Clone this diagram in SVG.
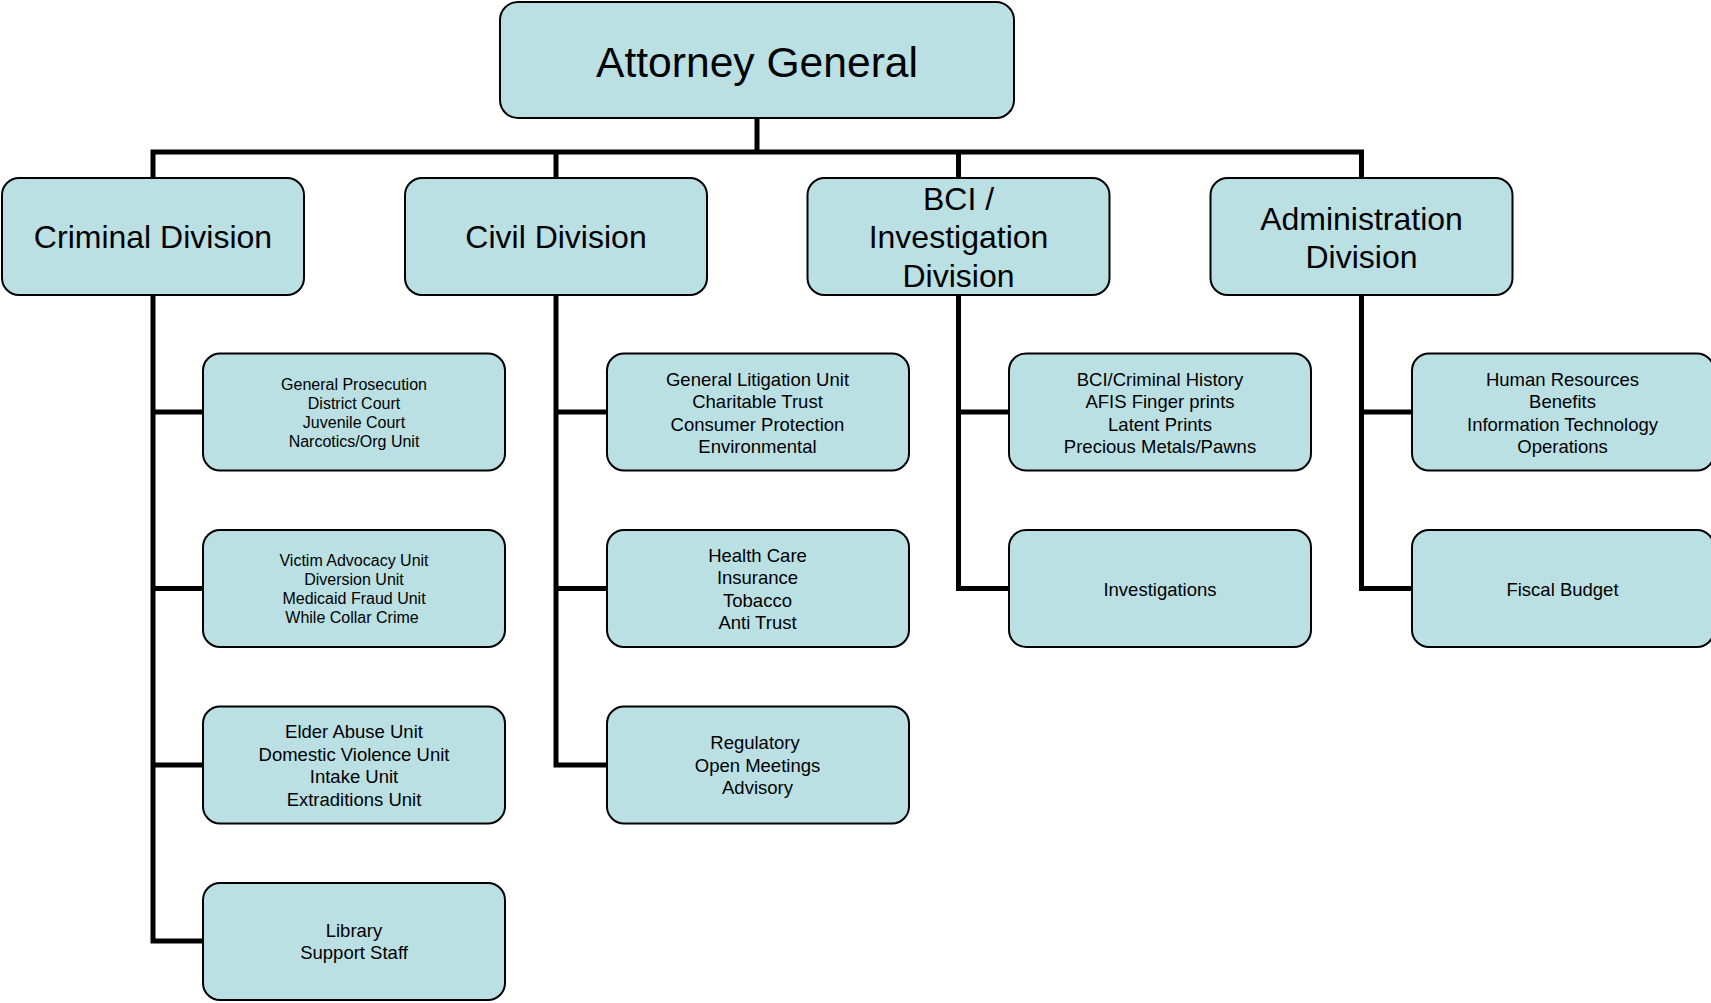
<svg xmlns="http://www.w3.org/2000/svg" width="1711" height="1003" viewBox="0 0 1711 1003">
<style>
.box{fill:#BBE0E3;stroke:#000;stroke-width:2}
.conn{fill:none;stroke:#000;stroke-width:5;stroke-linejoin:miter;stroke-linecap:butt}
text{font-family:"Liberation Sans",Arial,sans-serif;fill:#000;text-anchor:middle}
.t0{font-size:42.6px}
.t1{font-size:32px}
.t2{font-size:18.5px}
.t3{font-size:16px}
</style>
<rect width="1711" height="1003" fill="#fff"/>
<g id="connectors">
<path class="conn" d="M757,118 V152 M153,180 V152 H1361.5 V180 M556,152 V180 M958.5,152 V180"/>
<path class="conn" d="M153,295 V941 H203 M153,412 H203 M153,588.5 H203 M153,765 H203"/>
<path class="conn" d="M556,295 V765 H607 M556,412 H607 M556,588.5 H607"/>
<path class="conn" d="M958.5,295 V588.5 H1009 M958.5,412 H1009"/>
<path class="conn" d="M1361.5,295 V588.5 H1412 M1361.5,412 H1412"/>
</g>
<g id="attorney-general">
<rect class="box" x="500" y="2" width="514" height="116" rx="18"/>
<text class="t0" x="757" y="77">Attorney General</text>
</g>
<g id="criminal-division">
<rect class="box" x="2" y="178" width="302" height="117" rx="17"/>
<text class="t1" x="153" y="248">Criminal Division</text>
</g>
<g id="civil-division">
<rect class="box" x="405" y="178" width="302" height="117" rx="17"/>
<text class="t1" x="556" y="248">Civil Division</text>
</g>
<g id="bci-division">
<rect class="box" x="807.5" y="178" width="302" height="117" rx="17"/>
<text class="t1" x="958.5" y="210">BCI /</text>
<text class="t1" x="958.5" y="248">Investigation</text>
<text class="t1" x="958.5" y="286.5">Division</text>
</g>
<g id="admin-division">
<rect class="box" x="1210.5" y="178" width="302" height="117" rx="17"/>
<text class="t1" x="1361.5" y="229.5">Administration</text>
<text class="t1" x="1361.5" y="268">Division</text>
</g>
<g id="crim-1">
<rect class="box" x="203" y="353.5" width="302" height="117" rx="17"/>
<text class="t3" x="354" y="390">General Prosecution</text>
<text class="t3" x="354" y="409">District Court</text>
<text class="t3" x="354" y="428">Juvenile Court</text>
<text class="t3" x="354" y="447">Narcotics/Org Unit</text>
</g>
<g id="crim-2">
<rect class="box" x="203" y="530" width="302" height="117" rx="17"/>
<text class="t3" x="354" y="566">Victim Advocacy Unit</text>
<text class="t3" x="354" y="585">Diversion Unit</text>
<text class="t3" x="354" y="604">Medicaid Fraud Unit</text>
<text class="t3" x="352" y="623">While Collar Crime</text>
</g>
<g id="crim-3">
<rect class="box" x="203" y="706.5" width="302" height="117" rx="17"/>
<text class="t2" x="354" y="738">Elder Abuse Unit</text>
<text class="t2" x="354" y="760.5">Domestic Violence Unit</text>
<text class="t2" x="354" y="783">Intake Unit</text>
<text class="t2" x="354" y="805.5">Extraditions Unit</text>
</g>
<g id="crim-4">
<rect class="box" x="203" y="883" width="302" height="117" rx="17"/>
<text class="t2" x="354" y="936.5">Library</text>
<text class="t2" x="354" y="959">Support Staff</text>
</g>
<g id="civil-1">
<rect class="box" x="607" y="353.5" width="302" height="117" rx="17"/>
<text class="t2" x="757.5" y="385.5">General Litigation Unit</text>
<text class="t2" x="757.5" y="408">Charitable Trust</text>
<text class="t2" x="757.5" y="430.5">Consumer Protection</text>
<text class="t2" x="757.5" y="453">Environmental</text>
</g>
<g id="civil-2">
<rect class="box" x="607" y="530" width="302" height="117" rx="17"/>
<text class="t2" x="757.5" y="562">Health Care</text>
<text class="t2" x="757.5" y="584">Insurance</text>
<text class="t2" x="757.5" y="607">Tobacco</text>
<text class="t2" x="757.5" y="629">Anti Trust</text>
</g>
<g id="civil-3">
<rect class="box" x="607" y="706.5" width="302" height="117" rx="17"/>
<text class="t2" x="755" y="749">Regulatory</text>
<text class="t2" x="757.5" y="771.5">Open Meetings</text>
<text class="t2" x="757.5" y="794">Advisory</text>
</g>
<g id="bci-1">
<rect class="box" x="1009" y="353.5" width="302" height="117" rx="17"/>
<text class="t2" x="1160" y="385.5">BCI/Criminal History</text>
<text class="t2" x="1160" y="408">AFIS Finger prints</text>
<text class="t2" x="1160" y="430.5">Latent Prints</text>
<text class="t2" x="1160" y="453">Precious Metals/Pawns</text>
</g>
<g id="bci-2">
<rect class="box" x="1009" y="530" width="302" height="117" rx="17"/>
<text class="t2" x="1160" y="596">Investigations</text>
</g>
<g id="admin-1">
<rect class="box" x="1412" y="353.5" width="302" height="117" rx="17"/>
<text class="t2" x="1562.5" y="385.5">Human Resources</text>
<text class="t2" x="1562.5" y="408">Benefits</text>
<text class="t2" x="1562.5" y="430.5">Information Technology</text>
<text class="t2" x="1562.5" y="453">Operations</text>
</g>
<g id="admin-2">
<rect class="box" x="1412" y="530" width="302" height="117" rx="17"/>
<text class="t2" x="1562.5" y="596">Fiscal Budget</text>
</g>
</svg>
